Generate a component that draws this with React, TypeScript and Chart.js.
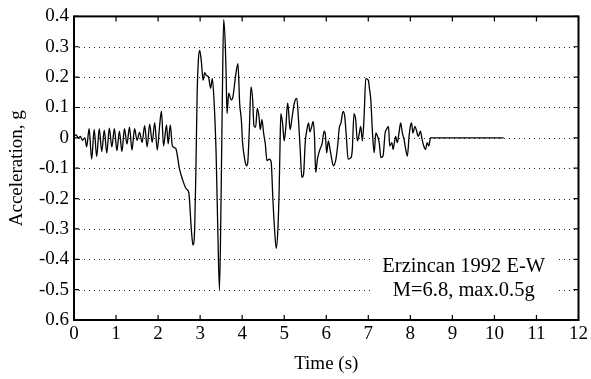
import React, { useEffect, useRef } from "react";
import { Chart, registerables } from "chart.js";

Chart.register(...registerables);

const timeS: number[] = [
  0.0, 0.05, 0.1, 0.15, 0.2, 0.26, 0.3, 0.36, 0.42, 0.48, 0.54, 0.6, 0.66, 0.72, 0.78, 0.84, 0.9, 0.96,
  1.02, 1.08, 1.14, 1.2, 1.26, 1.32, 1.38, 1.44, 1.5, 1.56, 1.62, 1.68, 1.74, 1.8, 1.86, 1.92, 1.98,
  2.04, 2.08, 2.13, 2.2, 2.24, 2.29, 2.34, 2.42, 2.51, 2.59, 2.67, 2.73, 2.79, 2.83, 2.87, 2.9, 2.93,
  2.96, 2.99, 3.03, 3.07, 3.11, 3.15, 3.2, 3.25, 3.29, 3.33, 3.38, 3.42, 3.46, 3.5, 3.53, 3.56, 3.6,
  3.62, 3.64, 3.68, 3.74, 3.78, 3.84, 3.9, 3.94, 3.98, 4.01, 4.06, 4.1, 4.13, 4.17, 4.21, 4.25, 4.28,
  4.32, 4.36, 4.4, 4.43, 4.47, 4.51, 4.55, 4.59, 4.65, 4.69, 4.73, 4.77, 4.81, 4.85, 4.88, 4.9, 4.92,
  4.96, 5.0, 5.04, 5.08, 5.1, 5.14, 5.19, 5.24, 5.3, 5.34, 5.38, 5.42, 5.46, 5.5, 5.54, 5.58, 5.61,
  5.65, 5.69, 5.72, 5.75, 5.79, 5.85, 5.9, 5.95, 5.98, 6.01, 6.05, 6.09, 6.13, 6.17, 6.23, 6.27, 6.31,
  6.35, 6.4, 6.44, 6.48, 6.52, 6.59, 6.62, 6.66, 6.7, 6.74, 6.78, 6.82, 6.86, 6.9, 6.94, 7.0, 7.03,
  7.06, 7.1, 7.14, 7.18, 7.22, 7.26, 7.3, 7.35, 7.4, 7.43, 7.48, 7.51, 7.56, 7.59, 7.65, 7.69, 7.73,
  7.77, 7.81, 7.85, 7.89, 7.93, 7.97, 8.0, 8.03, 8.06, 8.11, 8.14, 8.19, 8.24, 8.28, 8.32, 8.36, 8.4,
  8.44, 8.48, 8.52, 10.22,
];

const accelG: number[] = [
  0.005, 0.01, 0.0, 0.005, -0.008, 0.0, -0.03, 0.03, -0.07, 0.028, -0.062, 0.03, -0.045, 0.025, -0.05, 0.032, -0.03, 0.03,
  -0.042, 0.022, -0.045, 0.03, -0.02, 0.035, -0.04, 0.03, -0.008, 0.018, -0.015, 0.04, -0.03, 0.045, -0.015, 0.05, -0.04,
  0.045, 0.088, -0.027, 0.043, -0.02, 0.043, -0.027, -0.035, -0.103, -0.141, -0.168, -0.18, -0.3, -0.353, -0.3, -0.1, 0.15,
  0.26, 0.288, 0.25, 0.19, 0.215, 0.205, 0.2, 0.163, 0.195, 0.125, -0.05, -0.3, -0.5, -0.18, 0.15, 0.39, 0.3,
  0.2, 0.08, 0.147, 0.125, 0.135, 0.2, 0.244, 0.114, 0.06, -0.016, -0.07, -0.092, -0.085, 0.027, 0.168, 0.125, 0.039,
  0.035, 0.098, 0.07, 0.027, 0.06, 0.016, -0.02, -0.075, -0.07, -0.08, -0.2, -0.3, -0.364, -0.3, -0.17, -0.03, 0.08,
  0.049, -0.01, 0.038, 0.114, 0.095, 0.027, 0.07, 0.114, 0.13, 0.06, -0.038, -0.13, -0.12, -0.015, 0.027, 0.049, 0.02,
  0.035, 0.054, 0.005, -0.114, -0.07, -0.038, -0.02, 0.022, 0.01, -0.05, -0.01, -0.038, -0.07, -0.092, -0.07, -0.027, 0.033,
  0.049, 0.087, 0.07, 0.0, -0.07, -0.065, -0.038, 0.08, 0.06, -0.01, 0.01, 0.038, -0.01, 0.07, 0.195, 0.19, 0.16,
  0.125, 0.016, -0.049, 0.016, 0.005, -0.016, -0.065, -0.06, 0.016, 0.027, 0.038, -0.027, -0.016, -0.038, 0.005, -0.016, 0.016,
  0.049, 0.016, -0.005, -0.038, -0.06, 0.005, 0.038, 0.049, 0.016, 0.038, 0.027, 0.005, 0.022, -0.005, -0.027, -0.038, -0.016,
  -0.027, 0.0, 0.0, 0.0,
];

const xTicks: number[] = [0, 1, 2, 3, 4, 5, 6, 7, 8, 9, 10, 11, 12];
const yTicks: number[] = [0.4, 0.3, 0.2, 0.1, 0, -0.1, -0.2, -0.3, -0.4, -0.5, -0.6];
const yTickLabels: string[] = ["0.4", "0.3", "0.2", "0.1", "0", "-0.1", "-0.2", "-0.3", "-0.4", "-0.5", "0.6"];

const noteLines: string[] = ["Erzincan 1992 E-W", "M=6.8, max.0.5g"];
const xLabel = "Time (s)";
const yLabel = "Acceleration, g";

const FONT = "'Liberation Serif', 'Times New Roman', serif";

const framePlugin = {
  id: "matlabFrame",
  beforeDatasetsDraw(chart: any) {
    const { ctx, chartArea, scales } = chart;
    const ys = scales.y;
    const xs = scales.x;
    ctx.save();
    ctx.strokeStyle = "#222";
    ctx.lineWidth = 1;
    ctx.setLineDash([1, 4]);
    yTicks.forEach((v) => {
      if (v === 0.4 || v === -0.6) return;
      const py = Math.round(ys.getPixelForValue(v)) + 0.5;
      ctx.beginPath();
      ctx.moveTo(chartArea.left, py);
      ctx.lineTo(chartArea.right, py);
      ctx.stroke();
    });
    ctx.setLineDash([]);
    const bx1 = xs.getPixelForValue(7.05);
    const bx2 = xs.getPixelForValue(11.5);
    const by1 = ys.getPixelForValue(-0.37);
    const by2 = ys.getPixelForValue(-0.56);
    ctx.fillStyle = "#fff";
    ctx.fillRect(bx1, by1, bx2 - bx1, by2 - by1);
    ctx.fillStyle = "#000";
    ctx.font = `20.5px ${FONT}`;
    ctx.textAlign = "center";
    ctx.textBaseline = "alphabetic";
    const cx = xs.getPixelForValue(9.27);
    ctx.fillText(noteLines[0], cx, ys.getPixelForValue(-0.443));
    ctx.fillText(noteLines[1], cx, ys.getPixelForValue(-0.52));
    ctx.restore();
  },
  afterDraw(chart: any) {
    const { ctx, chartArea, scales } = chart;
    const { left, right, top, bottom } = chartArea;
    ctx.save();
    ctx.strokeStyle = "#000";
    ctx.lineWidth = 1.2;
    const tl = 5;
    xTicks.forEach((v) => {
      const px = scales.x.getPixelForValue(v);
      ctx.beginPath();
      ctx.moveTo(px, bottom);
      ctx.lineTo(px, bottom - tl);
      ctx.moveTo(px, top);
      ctx.lineTo(px, top + tl);
      ctx.stroke();
    });
    yTicks.forEach((v) => {
      const py = scales.y.getPixelForValue(v);
      ctx.beginPath();
      ctx.moveTo(left, py);
      ctx.lineTo(left + tl, py);
      ctx.moveTo(right, py);
      ctx.lineTo(right - tl, py);
      ctx.stroke();
    });
    ctx.lineWidth = 2;
    ctx.strokeRect(left, top, right - left, bottom - top);
    ctx.restore();
  },
};

export default function App() {
  const canvasRef = useRef<HTMLCanvasElement | null>(null);

  useEffect(() => {
    if (!canvasRef.current) return;
    const points = timeS.map((t, i) => ({ x: t, y: accelG[i] }));
    const chart = new Chart(canvasRef.current, {
      type: "line",
      data: {
        datasets: [
          {
            data: points,
            borderColor: "#000",
            borderWidth: 1.3,
            pointRadius: 0,
            cubicInterpolationMode: "monotone",
            fill: false,
          },
        ],
      },
      options: {
        animation: false,
        responsive: false,
        devicePixelRatio: 1,
        layout: { padding: { top: 13, right: 11, left: 0, bottom: 0 } },
        plugins: { legend: { display: false }, tooltip: { enabled: false } },
        scales: {
          x: {
            type: "linear",
            min: 0,
            max: 12,
            afterBuildTicks: (scale: any) => {
              scale.ticks = xTicks.map((v) => ({ value: v }));
            },
            ticks: {
              color: "#000",
              font: { family: FONT, size: 19 },
              padding: 3,
              maxRotation: 0,
              autoSkip: false,
              callback: (v: any) => String(v),
            },
            grid: { display: false, drawTicks: false },
            border: { display: false },
            title: {
              display: true,
              text: xLabel,
              color: "#000",
              font: { family: FONT, size: 19 },
              padding: { top: 0, bottom: 4 },
            },
            afterFit: (scale: any) => {
              scale.height = 59;
            },
          },
          y: {
            type: "linear",
            min: -0.6,
            max: 0.4,
            afterBuildTicks: (scale: any) => {
              scale.ticks = yTicks.map((v) => ({ value: v }));
            },
            ticks: {
              color: "#000",
              font: { family: FONT, size: 19 },
              padding: 5,
              autoSkip: false,
              callback: (v: any) => {
                const i = yTicks.findIndex((t) => Math.abs(t - Number(v)) < 1e-6);
                return i >= 0 ? yTickLabels[i] : "";
              },
            },
            grid: { display: false, drawTicks: false },
            border: { display: false },
            title: {
              display: true,
              text: yLabel,
              color: "#000",
              font: { family: FONT, size: 19 },
              padding: { top: 6, bottom: 0 },
            },
            afterFit: (scale: any) => {
              scale.width = 74;
            },
          },
        },
      },
      plugins: [framePlugin],
    });
    return () => chart.destroy();
  }, []);

  return (
    <div style={{ position: "fixed", left: 0, top: 0, width: 591, height: 379, background: "#fff" }}>
      <canvas ref={canvasRef} width={591} height={379} />
    </div>
  );
}
